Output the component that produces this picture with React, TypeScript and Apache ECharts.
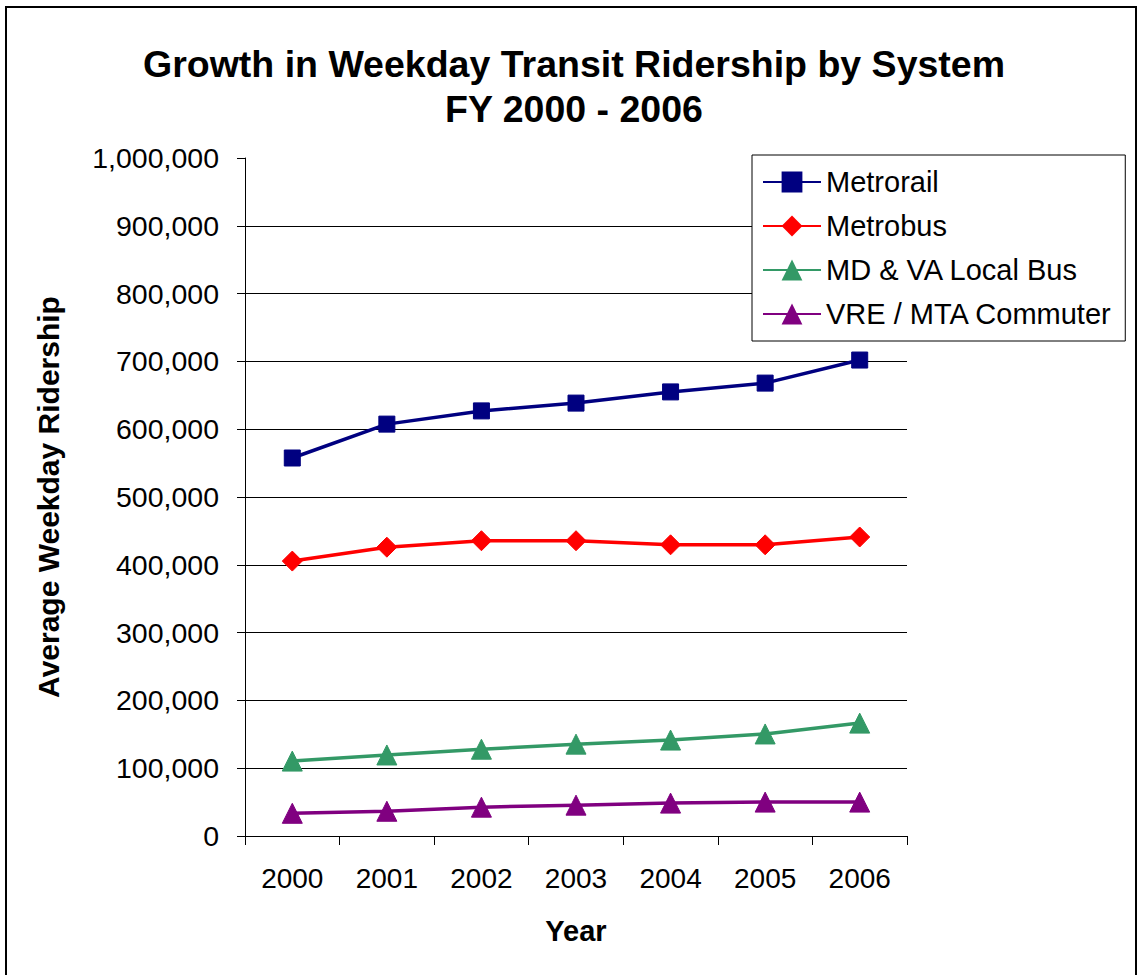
import React, { useEffect, useRef } from "react";
import * as echarts from "echarts";

const years = ["2000", "2001", "2002", "2003", "2004", "2005", "2006"];
const metrorail = [557500, 607500, 627000, 638500, 655000, 668000, 702000];
const metrobus = [405500, 426000, 435500, 435500, 429500, 429500, 441000];
const localBus = [110500, 119500, 128000, 135500, 141500, 150500, 166500];
const commuter = [33500, 36500, 42500, 45500, 48500, 50000, 50000];

const seriesNames = ["Metrorail", "Metrobus", "MD & VA Local Bus", "VRE / MTA Commuter"];
const seriesColors = ["#000080", "#FF0000", "#339966", "#800080"];
const seriesSymbols = ["rect", "diamond", "triangle", "triangle"];
const symbolSizes = [16, 20, 20, 20];

const FONT = "Arial, 'Liberation Sans', Helvetica, sans-serif";

export default function App() {
  const ref = useRef<HTMLDivElement>(null);
  useEffect(() => {
    if (!ref.current) return;
    const chart = echarts.init(ref.current, null, { renderer: "svg" });
    const dataSets = [metrorail, metrobus, localBus, commuter];
    const splitColors = Array.from({ length: 11 }, (_, i) => (i === 10 ? "rgba(0,0,0,0)" : "#000000"));
    chart.setOption({
      animation: false,
      backgroundColor: "#ffffff",
      textStyle: { fontFamily: FONT },
      title: {
        text: "Growth in Weekday Transit Ridership by System\nFY 2000 - 2006",
        left: 569,
        textAlign: "center",
        top: 36,
        textStyle: { fontFamily: FONT, fontSize: 37.5, fontWeight: "bold", color: "#000", lineHeight: 45 },
      },
      graphic: [
        {
          type: "rect",
          shape: { x: 6, y: 7, width: 1130, height: 980 },
          style: { fill: "none", stroke: "#000", lineWidth: 2 },
          silent: true,
          z: 100,
        },
      ],
      legend: {
        orient: "vertical",
        left: 752,
        top: 155,
        backgroundColor: "#ffffff",
        borderColor: "#000",
        borderWidth: 1,
        borderRadius: 0,
        padding: [12, 13, 12, 10],
        itemWidth: 58,
        itemHeight: 26,
        itemGap: 14,
        data: seriesNames,
        textStyle: { fontFamily: FONT, fontSize: 29, color: "#000", lineHeight: 30 },
      },
      grid: { left: 245, right: 231, top: 158, bottom: 139, containLabel: false },
      xAxis: {
        type: "category",
        data: years,
        boundaryGap: true,
        name: "Year",
        nameLocation: "middle",
        nameGap: 80,
        nameTextStyle: { fontFamily: FONT, fontSize: 29, fontWeight: "bold", color: "#000" },
        axisLine: { lineStyle: { color: "#000", width: 1 } },
        axisTick: { show: true, length: 9, lineStyle: { color: "#000" } },
        axisLabel: { fontFamily: FONT, fontSize: 28, color: "#000", margin: 28 },
        splitLine: { show: false },
      },
      yAxis: {
        type: "value",
        min: 0,
        max: 1000000,
        interval: 100000,
        name: "Average Weekday Ridership",
        nameLocation: "middle",
        nameRotate: 90,
        nameGap: 182,
        nameTextStyle: { fontFamily: FONT, fontSize: 30, fontWeight: "bold", color: "#000" },
        axisLine: { show: true, lineStyle: { color: "#000", width: 1 } },
        axisTick: { show: true, length: 8, lineStyle: { color: "#000" } },
        axisLabel: {
          fontFamily: FONT,
          fontSize: 28.5,
          color: "#000",
          margin: 26,
          formatter: (v: number) => v.toLocaleString("en-US"),
        },
        splitLine: { show: true, lineStyle: { color: splitColors, width: 1 } },
      },
      series: seriesNames.map((name, i) => ({
        name,
        type: "line",
        data: dataSets[i],
        symbol: seriesSymbols[i],
        symbolSize: symbolSizes[i],
        showSymbol: true,
        lineStyle: { color: seriesColors[i], width: 3.5 },
        itemStyle: { color: seriesColors[i], borderColor: seriesColors[i] },
        z: 10 - i,
      })),
    });
    return () => chart.dispose();
  }, []);
  return (
    <div
      ref={ref}
      style={{ position: "absolute", left: 0, top: 0, width: 1138, height: 975 }}
    />
  );
}
